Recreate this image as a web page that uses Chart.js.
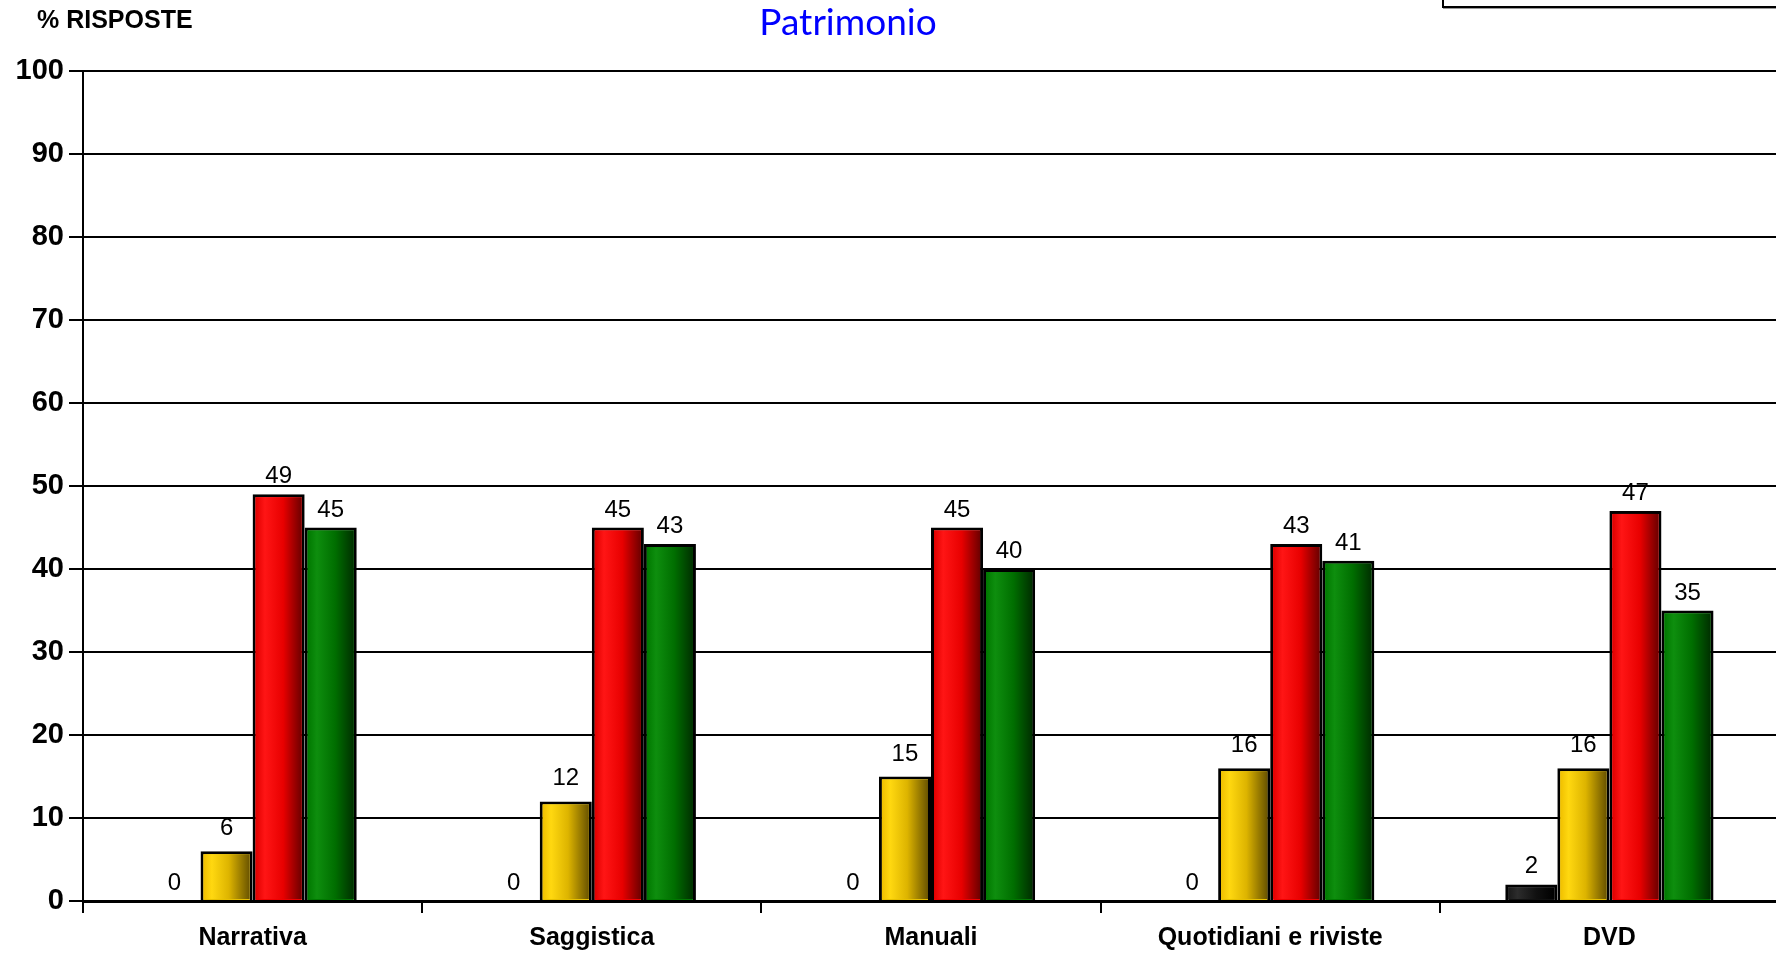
<!DOCTYPE html>
<html>
<head>
<meta charset="utf-8">
<script src="https://cdn.jsdelivr.net/npm/chart.js@4/dist/chart.umd.min.js"></script>
<style>
  html, body { margin: 0; padding: 0; background: #fff; overflow: hidden; }
  #wrap { position: relative; width: 1779px; height: 955px; }
  #legendBox { position: absolute; left: 1442px; top: -60px; width: 400px; height: 64px;
               border: 2px solid #000; box-shadow: 1px 1px 0 #999; background: #fff; }
</style>
</head>
<body>
<div id="wrap">
  <canvas id="c" width="1779" height="955"></canvas>
  <div id="legendBox"></div>
</div>
<script>
const categories = ['Narrativa', 'Saggistica', 'Manuali', 'Quotidiani e riviste', 'DVD'];
const seriesBlack  = [0, 0, 0, 0, 2];
const seriesYellow = [6, 12, 15, 16, 16];
const seriesRed    = [49, 45, 45, 43, 47];
const seriesGreen  = [45, 43, 40, 41, 35];
const yTicks = [0, 10, 20, 30, 40, 50, 60, 70, 80, 90, 100];
const titleText = 'Patrimonio';
const yAxisTitle = '% RISPOSTE';

const gradients = [
  [[0, '#1a1a1a'], [0.2, '#2c2c2c'], [0.6, '#111111'], [1, '#000000']],
  [[0, '#F0C000'], [0.18, '#FFD810'], [0.55, '#DDB400'], [1, '#6A5400']],
  [[0, '#E00000'], [0.2, '#FF1515'], [0.6, '#E80000'], [1, '#6E0000']],
  [[0, '#007800'], [0.2, '#0E8E0E'], [0.6, '#006E00'], [1, '#003000']]
];
const baseColors = ['#111111', '#E8C000', '#F00000', '#007800'];
const labelGap = [11, 16, 11, 11];

const barPlugin = {
  id: 'barDeco',
  afterDatasetsDraw(chart) {
    const ctx = chart.ctx;
    chart.data.datasets.forEach((ds, di) => {
      const meta = chart.getDatasetMeta(di);
      meta.data.forEach((el, i) => {
        const p = el.getProps(['x', 'y', 'base', 'width'], true);
        const bw = 3;
        const left = p.x - p.width / 2 + bw;
        const right = p.x + p.width / 2 - bw;
        const top = p.y + bw;
        if (p.base - top > 0.5) {
          const g = ctx.createLinearGradient(left, 0, right, 0);
          gradients[di].forEach(s => g.addColorStop(s[0], s[1]));
          ctx.save();
          ctx.fillStyle = g;
          ctx.fillRect(left, top, right - left, p.base - top - 1);
          ctx.restore();
        }
        ctx.save();
        ctx.font = '24px "Liberation Sans", Arial, sans-serif';
        ctx.fillStyle = '#000';
        ctx.textAlign = 'center';
        ctx.textBaseline = 'alphabetic';
        ctx.fillText(String(ds.data[i]), p.x, p.y - labelGap[di]);
        ctx.restore();
      });
    });
  },
  afterDraw(chart) {
    const ctx = chart.ctx;
    ctx.save();
    ctx.fillStyle = '#0000FF';
    ctx.font = '37px Lato, "Open Sans", sans-serif';
    ctx.textAlign = 'center';
    ctx.textBaseline = 'alphabetic';
    ctx.fillText(titleText, 848, 35);
    ctx.fillStyle = '#000';
    ctx.font = 'bold 25px "Liberation Sans", Arial, sans-serif';
    ctx.textAlign = 'left';
    ctx.fillText(yAxisTitle, 37, 28);
    ctx.restore();
  }
};

const mk = (label, data, idx) => ({
  label, data,
  backgroundColor: baseColors[idx],
  borderColor: '#000',
  borderWidth: 3,
  borderSkipped: 'bottom'
});

new Chart(document.getElementById('c'), {
  type: 'bar',
  data: {
    labels: categories,
    datasets: [
      mk('A', seriesBlack, 0),
      mk('B', seriesYellow, 1),
      mk('C', seriesRed, 2),
      mk('D', seriesGreen, 3)
    ]
  },
  options: {
    responsive: false,
    animation: false,
    devicePixelRatio: 1,
    layout: { padding: { top: 71, left: 0, right: 0, bottom: 0 } },
    datasets: { bar: { barPercentage: 1, categoryPercentage: 0.614 } },
    plugins: { legend: { display: false }, tooltip: { enabled: false }, title: { display: false } },
    scales: {
      x: {
        afterFit: s => { s.height = 54; },
        grid: { drawOnChartArea: false, drawTicks: true, tickLength: 12, color: '#000', lineWidth: 2, offset: true },
        border: { color: '#000', width: 3 },
        ticks: { color: '#000', font: { family: '"Liberation Sans", Arial, sans-serif', size: 25, weight: 'bold' }, padding: 10, maxRotation: 0, autoSkip: false }
      },
      y: {
        min: 0, max: 100,
        afterFit: s => { s.width = 83; },
        afterBuildTicks: s => { s.ticks = yTicks.map(v => ({ value: v })); },
        grid: { color: '#000', lineWidth: 2, tickLength: 14, drawTicks: true },
        border: { color: '#000', width: 2 },
        ticks: { color: '#000', font: { family: '"Liberation Sans", Arial, sans-serif', size: 29, weight: 'bold' }, padding: 5 }
      }
    }
  },
  plugins: [barPlugin]
});
</script>
</body>
</html>
